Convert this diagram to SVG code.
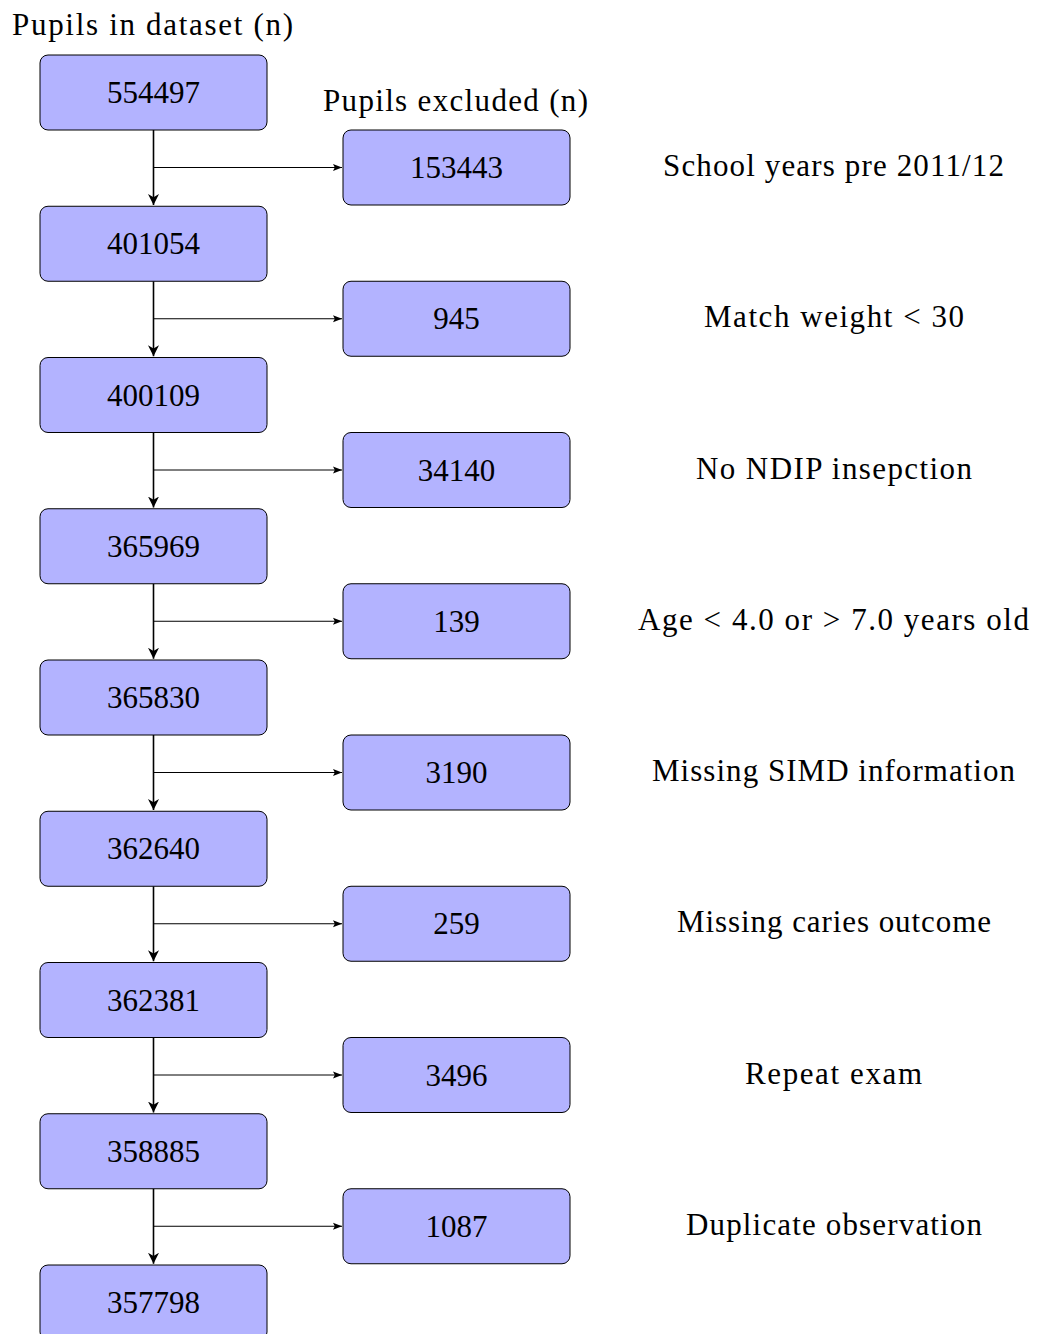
<svg xmlns="http://www.w3.org/2000/svg" width="1040" height="1334" viewBox="0 0 1040 1334">
<defs>
<style>
.box{fill:#b3b3ff;stroke:#000;stroke-width:1}
.t{font-family:"Liberation Serif","DejaVu Serif",serif;font-size:31px;fill:#000}
.c{text-anchor:middle}
.v{stroke:#000;stroke-width:1.6;fill:none}
.h{stroke:#000;stroke-width:1;fill:none}
</style>
<marker id="av" viewBox="0 0 10 10" refX="10" refY="5" markerWidth="11" markerHeight="11" markerUnits="userSpaceOnUse" orient="auto"><path d="M0,0 L10,5 L0,10 L3,5 z" fill="#000"/></marker>
<marker id="ah" viewBox="0 0 10 10" refX="10" refY="5" markerWidth="9" markerHeight="9" markerUnits="userSpaceOnUse" orient="auto"><path d="M0,1 L10,5 L0,9 L2,5 z" fill="#000"/></marker>
</defs>
<rect width="1040" height="1334" fill="#fff"/>
<text class="t" x="12" y="35" textLength="281">Pupils in dataset (n)</text>
<text class="t" x="323" y="111" textLength="265">Pupils excluded (n)</text>
<g id="connectors">
<path class="v" d="M153.5,130 V205" marker-end="url(#av)"/>
<path class="h" d="M153.5,167.5 H342" marker-end="url(#ah)"/>
<path class="v" d="M153.5,281.25 V356.25" marker-end="url(#av)"/>
<path class="h" d="M153.5,318.75 H342" marker-end="url(#ah)"/>
<path class="v" d="M153.5,432.5 V507.5" marker-end="url(#av)"/>
<path class="h" d="M153.5,470 H342" marker-end="url(#ah)"/>
<path class="v" d="M153.5,583.75 V658.75" marker-end="url(#av)"/>
<path class="h" d="M153.5,621.25 H342" marker-end="url(#ah)"/>
<path class="v" d="M153.5,735 V810" marker-end="url(#av)"/>
<path class="h" d="M153.5,772.5 H342" marker-end="url(#ah)"/>
<path class="v" d="M153.5,886.25 V961.25" marker-end="url(#av)"/>
<path class="h" d="M153.5,923.75 H342" marker-end="url(#ah)"/>
<path class="v" d="M153.5,1037.5 V1112.5" marker-end="url(#av)"/>
<path class="h" d="M153.5,1075 H342" marker-end="url(#ah)"/>
<path class="v" d="M153.5,1188.75 V1263.75" marker-end="url(#av)"/>
<path class="h" d="M153.5,1226.25 H342" marker-end="url(#ah)"/>
</g>
<g id="n0"><rect class="box" x="40" y="55" width="227" height="75" rx="8"/><text class="t c" x="153.5" y="103">554497</text></g>
<g id="n1"><rect class="box" x="40" y="206.25" width="227" height="75" rx="8"/><text class="t c" x="153.5" y="254.25">401054</text></g>
<g id="n2"><rect class="box" x="40" y="357.5" width="227" height="75" rx="8"/><text class="t c" x="153.5" y="405.5">400109</text></g>
<g id="n3"><rect class="box" x="40" y="508.75" width="227" height="75" rx="8"/><text class="t c" x="153.5" y="556.75">365969</text></g>
<g id="n4"><rect class="box" x="40" y="660" width="227" height="75" rx="8"/><text class="t c" x="153.5" y="708">365830</text></g>
<g id="n5"><rect class="box" x="40" y="811.25" width="227" height="75" rx="8"/><text class="t c" x="153.5" y="859.25">362640</text></g>
<g id="n6"><rect class="box" x="40" y="962.5" width="227" height="75" rx="8"/><text class="t c" x="153.5" y="1010.5">362381</text></g>
<g id="n7"><rect class="box" x="40" y="1113.75" width="227" height="75" rx="8"/><text class="t c" x="153.5" y="1161.75">358885</text></g>
<g id="n8"><rect class="box" x="40" y="1265" width="227" height="75" rx="8"/><text class="t c" x="153.5" y="1313">357798</text></g>
<g id="e0"><rect class="box" x="343" y="130" width="227" height="75" rx="8"/><text class="t c" x="456.5" y="178">153443</text></g>
<g id="e1"><rect class="box" x="343" y="281.25" width="227" height="75" rx="8"/><text class="t c" x="456.5" y="329.25">945</text></g>
<g id="e2"><rect class="box" x="343" y="432.5" width="227" height="75" rx="8"/><text class="t c" x="456.5" y="480.5">34140</text></g>
<g id="e3"><rect class="box" x="343" y="583.75" width="227" height="75" rx="8"/><text class="t c" x="456.5" y="631.75">139</text></g>
<g id="e4"><rect class="box" x="343" y="735" width="227" height="75" rx="8"/><text class="t c" x="456.5" y="783">3190</text></g>
<g id="e5"><rect class="box" x="343" y="886.25" width="227" height="75" rx="8"/><text class="t c" x="456.5" y="934.25">259</text></g>
<g id="e6"><rect class="box" x="343" y="1037.5" width="227" height="75" rx="8"/><text class="t c" x="456.5" y="1085.5">3496</text></g>
<g id="e7"><rect class="box" x="343" y="1188.75" width="227" height="75" rx="8"/><text class="t c" x="456.5" y="1236.75">1087</text></g>
<g id="labels">
<text class="t" x="663" y="176" textLength="341">School years pre 2011/12</text>
<text class="t" x="704" y="327.25" textLength="260">Match weight &lt; 30</text>
<text class="t" x="696" y="478.5" textLength="276">No NDIP insepction</text>
<text class="t" x="638" y="629.75" textLength="391">Age &lt; 4.0 or &gt; 7.0 years old</text>
<text class="t" x="652" y="781" textLength="363">Missing SIMD information</text>
<text class="t" x="677" y="932.25" textLength="314">Missing caries outcome</text>
<text class="t" x="745" y="1083.5" textLength="177">Repeat exam</text>
<text class="t" x="686" y="1234.75" textLength="296">Duplicate observation</text>
</g>
</svg>
